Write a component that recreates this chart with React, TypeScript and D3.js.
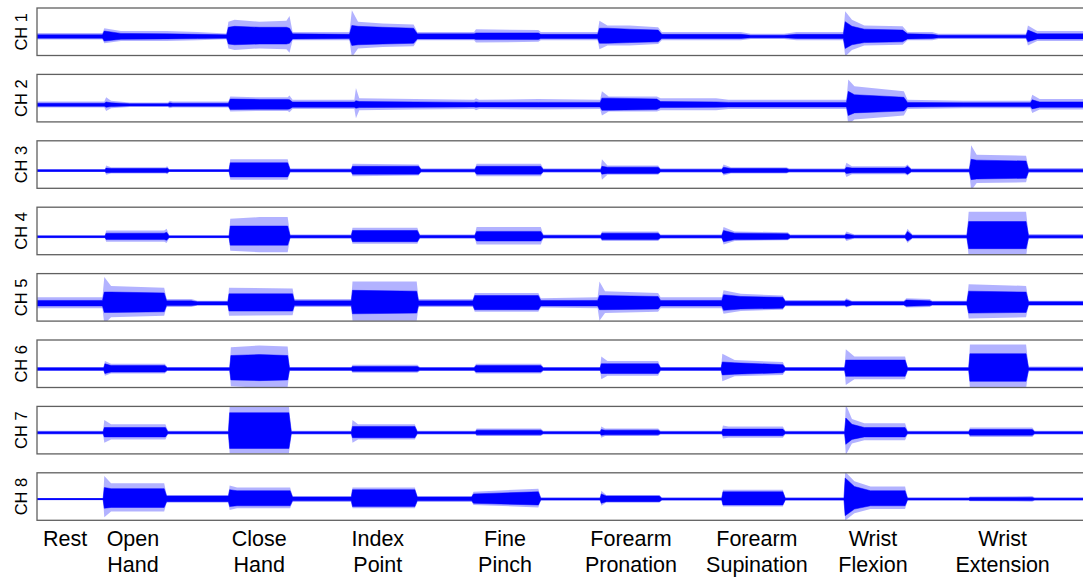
import React from "react"
import * as d3 from "d3"

// EMG recording, 8 channels, one hold per gesture. Time in seconds.
// Each keypoint: [time, dense envelope, spike envelope] (amplitude units, baseline = 0)

const channels = ["CH 1", "CH 2", "CH 3", "CH 4", "CH 5", "CH 6", "CH 7", "CH 8"]

const gestureLabels = [
  ["Rest"],
  ["Open", "Hand"],
  ["Close", "Hand"],
  ["Index", "Point"],
  ["Fine", "Pinch"],
  ["Forearm", "Pronation"],
  ["Forearm", "Supination"],
  ["Wrist", "Flexion"],
  ["Wrist", "Extension"],
]
const labelTimes = [2.27, 7.77, 18.0, 27.6, 37.9, 48.1, 58.3, 67.7, 78.2]

const timeDomain = [0, 85.6]
// upper limit of each channel's y range (lower limit is -20)
const yTop = [30.5, 36, 34, 33, 34, 32, 25, 25]
const yBottom = -20
// downward swings are smaller than upward ones in this recording
const lowerRatio = 0.78

const ch1 = [
  [0, 2, 4], [5.3, 2, 4], [5.45, 6, 9], [6.8, 3.5, 6], [10.5, 3, 6], [13, 2.5, 5],
  [15.35, 2, 3.5], [15.5, 10, 16], [16, 11, 18], [18, 10, 16], [20.2, 10, 17], [20.45, 9, 22],
  [20.7, 3, 5], [25.3, 2.5, 5], [25.5, 12, 28], [26, 11, 16], [28, 10, 14], [30.5, 9, 13],
  [30.8, 3, 5], [35.4, 3, 5], [35.55, 4, 8], [40.6, 4, 7], [40.8, 2.5, 5], [45.4, 2.5, 5],
  [45.55, 9, 17], [46.2, 9, 12], [48, 8, 12], [50.3, 7, 10], [50.6, 2.5, 5], [57, 2.5, 5],
  [57.8, 1.5, 3], [60.5, 1.5, 3], [61.5, 2.5, 5], [65.3, 2.5, 5], [65.45, 16, 27], [66, 11, 18],
  [67, 8, 12], [70.1, 7, 11], [70.5, 3, 5], [72.5, 2.5, 5], [73, 1.5, 3], [80.1, 1.5, 3],
  [80.25, 7, 12], [81, 3, 6], [85.6, 3, 6],
]

const ch2 = [
  [0, 2, 4], [5.45, 2, 4], [5.6, 3.5, 9], [6, 2.5, 5], [7.5, 1.5, 3], [10.6, 1.5, 3],
  [10.75, 2.5, 5], [11, 2, 4], [15.5, 2, 4], [15.65, 7, 10], [18, 6.5, 9], [20.3, 6.5, 9],
  [20.45, 6, 11], [20.7, 3.5, 6], [25.7, 3.5, 6], [25.83, 5, 20], [26.1, 4, 8], [30.6, 3.5, 7],
  [35.4, 3, 6], [35.55, 3.5, 8], [35.8, 3, 6], [40.6, 3, 7], [45.6, 3, 6], [45.75, 8, 16],
  [46.3, 8, 10], [50.2, 7, 10], [50.5, 4, 8], [55, 3.5, 8], [56, 3, 6], [65.55, 3, 6],
  [65.7, 16, 30], [66.2, 12, 22], [69, 10, 18], [70.2, 9, 16], [70.5, 3, 6], [75, 2.5, 5],
  [80.45, 2.5, 5], [80.6, 6, 12], [81.2, 3.5, 7], [85.6, 3.5, 7],
]

const ch3 = [
  [0, 1, 2], [5.5, 1, 2], [5.6, 3, 6], [6, 2.5, 4], [10.4, 2.5, 4], [10.55, 3, 5],
  [10.7, 1, 2], [15.55, 1, 2], [15.65, 9, 13], [20.3, 9, 13], [20.5, 1.5, 2.5], [25.45, 1.5, 2.5],
  [25.55, 5, 8], [30.9, 5, 7], [31.1, 1.5, 2.5], [35.45, 1.5, 2.5], [35.6, 5, 8], [40.8, 5, 8],
  [41, 1.5, 2.5], [45.65, 1.5, 2.5], [45.75, 5, 13], [46.2, 4, 6], [50.3, 4, 6], [50.5, 1.5, 2.5],
  [55.45, 1.5, 2.5], [55.6, 4, 7], [56.2, 2.5, 4], [60.7, 2.5, 4], [60.9, 1.5, 2.5], [65.4, 1.5, 2.5],
  [65.55, 4, 9], [66, 3, 5], [70.3, 3, 5], [70.5, 5, 7], [70.8, 1.5, 2.5], [75.5, 1.5, 2.5],
  [75.65, 13, 29], [76.1, 12, 18], [80.1, 11, 17], [80.3, 1.5, 3], [85.6, 1.5, 3],
]

const ch4 = [
  [0, 1, 2], [5.5, 1, 2], [5.6, 4, 7], [10.3, 4, 7], [10.5, 5, 9], [10.7, 1, 2],
  [15.55, 1, 2], [15.65, 12, 20], [18, 12, 22], [20.3, 12, 22], [20.5, 1.5, 2.5], [25.45, 1.5, 2.5],
  [25.55, 7, 10], [30.8, 7, 10], [31, 1.5, 2.5], [35.45, 1.5, 2.5], [35.6, 6, 11], [40.8, 6, 11],
  [41, 1.5, 2.5], [45.65, 1.5, 2.5], [45.75, 4, 6], [50.3, 4, 6], [50.5, 1.5, 2.5], [55.45, 1.5, 2.5],
  [55.6, 7, 11], [56.5, 4, 6], [60.8, 3.5, 5], [61, 1.5, 2.5], [65.4, 1.5, 2.5], [65.55, 3, 6],
  [66.2, 1.5, 2.5], [70.3, 1.5, 2.5], [70.5, 6, 9], [70.9, 1.5, 2.5], [75.3, 1.5, 2.5], [75.45, 17, 28],
  [80.1, 17, 28], [80.3, 1.5, 3], [85.6, 1.5, 3],
]

const ch5 = [
  [0, 3.5, 7], [5.3, 3.5, 7], [5.45, 13, 30], [6, 13, 20], [10.3, 12, 18], [10.5, 3, 5],
  [12.5, 3, 5], [13, 2, 3], [15.45, 2, 3], [15.55, 11, 18], [20.7, 11, 17], [20.85, 3, 5],
  [25.45, 3, 5], [25.55, 15, 25], [30.75, 14, 25], [30.9, 3, 5], [35.3, 3, 5], [35.45, 9, 12],
  [40.6, 9, 12], [40.8, 3.5, 6], [45.4, 3.5, 7], [45.55, 9, 25], [46, 9, 14], [50.3, 8, 12],
  [50.5, 3.5, 7], [55.45, 3.5, 7], [55.6, 10, 15], [57, 8, 11], [60.4, 7, 9], [60.6, 2.5, 4],
  [65.4, 2.5, 4], [65.55, 4, 6], [66, 2, 3], [70.2, 2, 3], [70.4, 4, 6], [72.3, 3, 5],
  [72.5, 2, 3], [75.3, 2, 3], [75.45, 14, 22], [80.1, 13, 20], [80.3, 2, 3], [85.6, 2, 3],
]

const ch6 = [
  [0, 1.5, 2.5], [5.4, 1.5, 2.5], [5.5, 6, 9], [6, 4, 6], [10.35, 4, 6], [10.55, 1.5, 2.5],
  [15.6, 1.5, 2.5], [15.7, 15, 24], [18, 16, 26], [20.3, 15, 25], [20.45, 1.5, 2.5], [25.45, 1.5, 2.5],
  [25.55, 3, 5], [30.8, 3, 5], [31, 1.5, 2.5], [35.4, 1.5, 2.5], [35.55, 4, 6], [40.8, 4, 6],
  [41, 1.5, 2.5], [45.6, 1.5, 2.5], [45.7, 6, 14], [46.2, 6, 9], [50.3, 6, 9], [50.5, 1.5, 2.5],
  [55.4, 1.5, 2.5], [55.5, 8, 17], [56.5, 7, 10], [60.4, 5, 8], [60.6, 1.5, 2.5], [65.4, 1.5, 2.5],
  [65.5, 10, 22], [66.2, 10, 14], [70.3, 10, 14], [70.5, 1.5, 2.5], [75.45, 1.5, 2.5], [75.55, 17, 27],
  [80.1, 17, 27], [80.3, 1.5, 3], [85.6, 1.5, 3],
]

const ch7 = [
  [0, 1, 2], [5.35, 1, 2], [5.45, 5, 12], [6, 5, 8], [10.4, 5, 8], [10.6, 1, 2],
  [15.5, 1, 2], [15.6, 19, 25], [20.4, 19, 25], [20.6, 1, 2], [25.45, 1, 2], [25.55, 6, 12],
  [26, 6, 8], [30.6, 6, 8], [30.8, 1, 2], [35.5, 1, 2], [35.6, 2.5, 4], [40.8, 2.5, 4],
  [41, 1, 2], [45.6, 1, 2], [45.7, 3, 6], [46, 2.5, 4], [50.3, 2.5, 4], [50.5, 1, 2],
  [55.45, 1, 2], [55.55, 3.5, 7], [56, 3.5, 6], [60.4, 3.5, 6], [60.6, 1, 2], [65.4, 1, 2],
  [65.5, 14, 27], [66, 8, 13], [67, 5, 9], [70.3, 5, 9], [70.5, 1, 2], [75.45, 1, 2],
  [75.55, 3, 5], [80.6, 3, 5], [80.8, 1, 2], [85.6, 1, 2],
]

const ch8 = [
  [0, 0.6, 1], [5.35, 0.6, 1], [5.45, 11, 22], [6, 10, 15], [10.3, 10, 15], [10.5, 3, 4],
  [15.5, 3, 4], [15.6, 9, 13], [16.2, 8, 11], [20.5, 8, 11], [20.7, 2, 3], [25.45, 2, 3],
  [25.55, 9, 11], [30.6, 9, 11], [30.8, 2, 3], [35.2, 2, 3], [35.35, 5, 7], [40.6, 7, 10],
  [40.8, 1, 1.5], [45.6, 1, 1.5], [45.7, 5, 8], [46.1, 3, 4], [50.4, 3, 4], [50.6, 1, 1.5],
  [55.45, 1, 1.5], [55.55, 7, 9], [60.4, 7, 9], [60.6, 1, 1.5], [65.35, 1, 1.5], [65.45, 20, 26],
  [66.2, 12, 17], [67.5, 8, 12], [70.3, 8, 12], [70.5, 1, 1.5], [75.45, 1, 1.5], [75.55, 1.5, 2.5],
  [80.6, 1.5, 3], [80.8, 1, 1.5], [85.6, 1, 1.5],
]

const signals = [ch1, ch2, ch3, ch4, ch5, ch6, ch7, ch8]

const W = 1083
const H = 579
const left = 37
const right = 1094
const firstTop = 8
const pitch = 66.4
const panelH = 47.5
const blue = "#0000ff"
const font = "'Liberation Sans', Arial, Helvetica, sans-serif"

export default function App() {
  const x = d3.scaleLinear().domain(timeDomain).range([left, right])

  return (
    <svg
      width={W}
      height={H}
      style={{ position: "absolute", left: 0, top: 0, background: "#fff" }}
      fontFamily={font}
    >
      <defs>
        {channels.map((c, i) => (
          <clipPath id={`clip${i}`} key={c}>
            <rect x={left} y={0} width={right - left} height={panelH} />
          </clipPath>
        ))}
      </defs>

      {channels.map((name, i) => {
        const top = firstTop + i * pitch
        const y = d3.scaleLinear().domain([yBottom, yTop[i]]).range([panelH, 0])
        const pts = signals[i]

        const spikes = d3
          .area<number[]>()
          .x(d => x(d[0]))
          .y0(d => y(-d[2] * lowerRatio))
          .y1(d => y(d[2]))
        const dense = d3
          .area<number[]>()
          .x(d => x(d[0]))
          .y0(d => y(-d[1] * lowerRatio))
          .y1(d => y(d[1]))

        return (
          <g key={name} transform={`translate(0,${top})`}>
            <g clipPath={`url(#clip${i})`}>
              <path d={spikes(pts) || ""} fill={blue} fillOpacity={0.3} />
              <path d={dense(pts) || ""} fill={blue} stroke={blue} strokeWidth={0.5} />
              <line x1={left} x2={right} y1={y(0)} y2={y(0)} stroke={blue} strokeWidth={1.2} />
            </g>
            <rect
              x={left}
              y={0}
              width={right - left}
              height={panelH}
              fill="none"
              stroke="#606060"
              strokeWidth={1.3}
            />
            <text
              transform={`translate(27,${panelH / 2}) rotate(-90)`}
              textAnchor="middle"
              fontSize={16.5}
              fill="#000"
            >
              {name}
            </text>
          </g>
        )
      })}

      {gestureLabels.map((lines, i) => (
        <text key={i} textAnchor="middle" fontSize={21.5} fill="#000">
          {lines.map((l, j) => (
            <tspan key={j} x={x(labelTimes[i])} y={546 + j * 25.5}>
              {l}
            </tspan>
          ))}
        </text>
      ))}
    </svg>
  )
}
